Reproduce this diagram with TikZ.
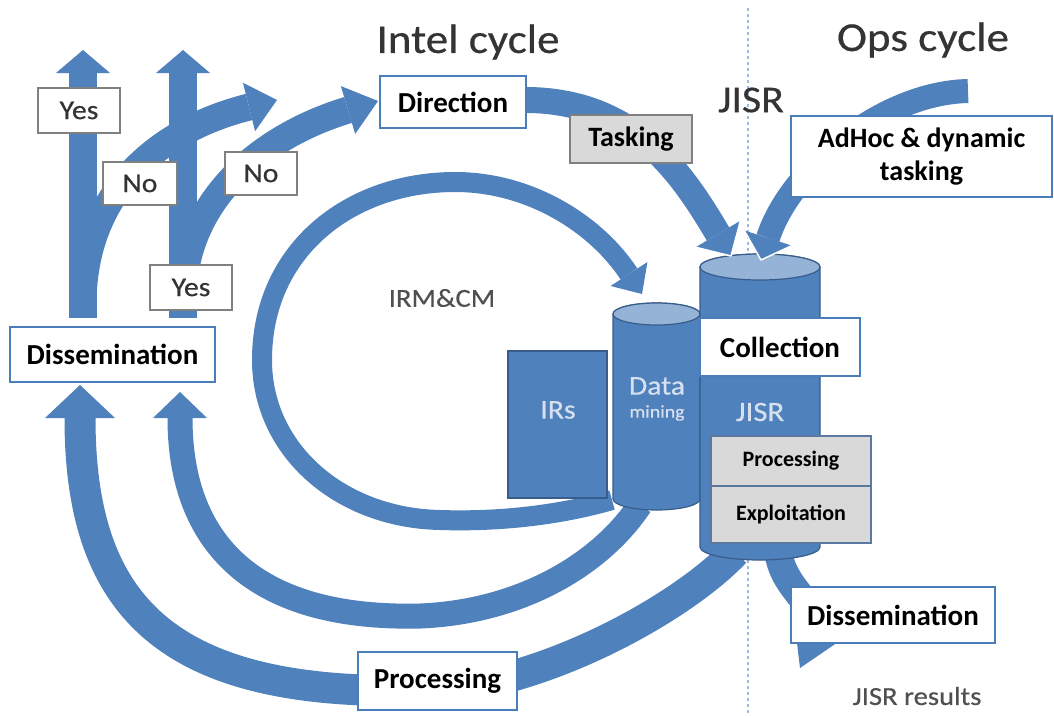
\documentclass[tikz,border=0pt]{standalone}
\usepackage{fontspec}
\setmainfont{Carlito}
\newfontfamily\rf{Carlito}[FakeStretch=1.1, FakeBold=0.5]
\usetikzlibrary{calc}
\definecolor{ablue}{RGB}{79,129,189}
\definecolor{bdark}{RGB}{56,93,138}
\definecolor{btop}{RGB}{149,179,215}
\definecolor{ltext}{RGB}{214,224,238}
\definecolor{boxline}{RGB}{74,126,187}
\definecolor{gfill}{RGB}{217,217,217}
\definecolor{gbord}{RGB}{90,120,160}
\definecolor{gline}{RGB}{128,128,128}
\definecolor{dtext}{RGB}{52,52,52}
\definecolor{mgray}{RGB}{80,80,80}
\definecolor{dotline}{RGB}{157,185,221}
\newcommand\myhead[3]{\fill[ablue] ($(#1)!#3!90:(#2)$) -- (#2) -- ($(#1)!#3!-90:(#2)$) -- cycle;}
\newcommand\myheadw[3]{\fill[ablue] ($(#1)!#3!90:(#2)$) -- (#2) -- ($(#1)!#3!-90:(#2)$) -- cycle;
  \draw[white, line width=1.5pt, line join=round] ($(#1)!#3!90:(#2)$) -- (#2) -- ($(#1)!#3!-90:(#2)$);}
\tikzset{
  shaft/.style={draw=ablue, line width=#1},
  bluebox/.style={draw=boxline, line width=1.3pt, fill=white, inner sep=0pt, text=black, font=\bfseries\fontsize{29}{33}\selectfont},
  graybox/.style={draw=gbord, line width=1.3pt, fill=gfill, inner sep=0pt, text=black, font=\bfseries\fontsize{22}{26}\selectfont},
  ynbox/.style={draw=gline, line width=1.5pt, fill=white, inner sep=0pt, text=dtext, font=\rf\fontsize{27}{30}\selectfont},
  title/.style={text=dtext, font=\rf\fontsize{41}{45}\selectfont},
  shapetext/.style={text=ltext, font=\rf\fontsize{27}{30}\selectfont},
  cylbody/.style={fill=ablue, draw=bdark, line width=1.2pt},
  cyltop/.style={fill=btop, draw=bdark, line width=1.2pt},
}
\begin{document}
\begin{tikzpicture}[x=1pt,y=-1pt]
\useasboundingbox (0,0) rectangle (1054,715);
\fill[white] (0,0) rectangle (1054,715);
% divider
\coordinate (dtop) at (748,8);
\coordinate (dbot) at (748,715);
\draw[dotline, line width=1.2pt, dash pattern=on 3pt off 3pt] (dtop) -- (dbot);

% outer arc B
\coordinate (bB) at (80,418); \coordinate (tB) at (80,385);
\draw[shaft=31pt] (735,552) .. controls (680,610) and (540,686) .. (430,690) .. controls (170,699) and (80,610) .. (bB);
\myhead{bB}{tB}{35pt}
% middle arc A
\coordinate (bA) at (180,418); \coordinate (tA) at (180,392);
\draw[shaft=25pt] (640,505) .. controls (600,565) and (520,612) .. (420,616) .. controls (250,620) and (180,540) .. (bA);
\myhead{bA}{tA}{27pt}
% right dissemination
\coordinate (bR) at (815,635); \coordinate (tR) at (800,668);
\draw[shaft=28pt] (778,545) .. controls (778,590) and (827,608) .. (bR);
\myhead{bR}{tR}{22pt}
% inner IRM&CM arc
\coordinate (bI) at (629,274); \coordinate (tI) at (642,294);
\draw[shaft=20pt] (612,500) .. controls (560,515) and (500,522) .. (440,520) .. controls (340,518) and (262,450) .. (262,360) .. controls (262,250) and (350,182) .. (455,182) .. controls (530,182) and (596,224) .. (bI);
\myhead{bI}{tI}{22pt}

% vertical arrows
\coordinate (b1) at (83,73); \coordinate (t1) at (83,50);
\draw[shaft=28pt] (83,318) -- (b1); \myhead{b1}{t1}{27pt}
\coordinate (b2) at (183,73); \coordinate (t2) at (183,50);
\draw[shaft=28pt] (183,318) -- (b2); \myhead{b2}{t2}{27pt}
% curved No arrows
\coordinate (bC1) at (249,107); \coordinate (tC1) at (277,100);
\draw[shaft=27pt] (83,305) .. controls (83,190) and (161,129) .. (bC1); \myhead{bC1}{tC1}{25pt}
\coordinate (bC2) at (348,110); \coordinate (tC2) at (378,101);
\draw[shaft=27pt] (183,300) .. controls (183,200) and (262,136) .. (bC2); \myhead{bC2}{tC2}{25pt}

% tasking and adhoc shafts
\coordinate (bT) at (718,234); \coordinate (tT) at (731,256);
\draw[shaft=26pt] (520,100) .. controls (630,98) and (679,168) .. (bT);
\coordinate (bH) at (768,238); \coordinate (tH) at (761,260);
\draw[shaft=24pt] (968,91) .. controls (880,93) and (789,172) .. (bH);

% IRs block
\draw[cylbody] (508,351) rectangle (607,498);
% data mining cylinder
\filldraw[cylbody] (613,314) -- (613,499) arc[start angle=180,end angle=360,x radius=43.5pt,y radius=11pt] -- (700,314) arc[start angle=0,end angle=180,x radius=43.5pt,y radius=11pt] -- cycle;
\filldraw[cyltop] (656.5,314) ellipse[x radius=43.5pt, y radius=11pt];
% JISR cylinder
\filldraw[cylbody] (700,267) -- (700,547) arc[start angle=180,end angle=360,x radius=60pt,y radius=13pt] -- (820,267) arc[start angle=0,end angle=180,x radius=60pt,y radius=13pt] -- cycle;
\filldraw[cyltop] (760,267) ellipse[x radius=60pt, y radius=13pt];

\myheadw{bT}{tT}{26pt}
\myheadw{bH}{tH}{25pt}

% boxes
\node[ynbox, minimum width=82pt, minimum height=45pt] (yes1) at (79,110.5) {Yes};
\node[ynbox, minimum width=74pt, minimum height=43pt] (no1) at (140,183.5) {No};
\node[ynbox, minimum width=72pt, minimum height=43pt] (no2) at (261,173.5) {No};
\node[ynbox, minimum width=82pt, minimum height=45pt] (yes2) at (191,287.5) {Yes};
\node[bluebox, minimum width=205pt, minimum height=55pt] (dissL) at (112.5,354.5) {Dissemination};
\node[bluebox, minimum width=146pt, minimum height=52pt] (direction) at (453,102) {Direction};
\node[graybox, draw=gline, font=\bfseries\fontsize{28}{32}\selectfont, minimum width=122pt, minimum height=48pt] (tasking) at (631,139) {Tasking};
\node[bluebox, font=\bfseries\fontsize{28}{33}\selectfont, align=center, minimum width=261pt, minimum height=81pt] (adhoc) at (921.5,156.5) {AdHoc \& dynamic\\tasking};
\node[bluebox, minimum width=160pt, minimum height=58pt] (collection) at (780,347) {Collection};
\node[graybox, minimum width=160pt, minimum height=50pt] (procS) at (791,461) {Processing};
\node[graybox, minimum width=160pt, minimum height=57pt] (exploit) at (791,514.5) {Exploitation};
\node[bluebox, minimum width=204pt, minimum height=56pt] (dissR) at (893,615) {Dissemination};
\node[bluebox, minimum width=159pt, minimum height=58pt] (procB) at (437.5,681) {Processing};

% texts
\node[title] (intel) at (468,42) {Intel cycle};
\node[title] (ops) at (923,40) {Ops cycle};
\node[title, font=\rf\fontsize{38}{42}\selectfont] (jisrT) at (751,100) {JISR};
\node[text=mgray, font=\rf\fontsize{26}{30}\selectfont] (irm) at (442,298) {IRM\&CM};
\node[text=mgray, font=\rf\fontsize{26}{30}\selectfont] (res) at (917,696) {JISR results};
\node[shapetext] (irs) at (558,410) {IRs};
\node[shapetext] (data) at (657,386) {Data};
\node[shapetext, font=\rf\fontsize{18}{20}\selectfont] (mining) at (657,413) {mining};
\node[shapetext, font=\rf\fontsize{28}{30}\selectfont] (jisrC) at (760,412) {JISR};
\end{tikzpicture}
\end{document}
